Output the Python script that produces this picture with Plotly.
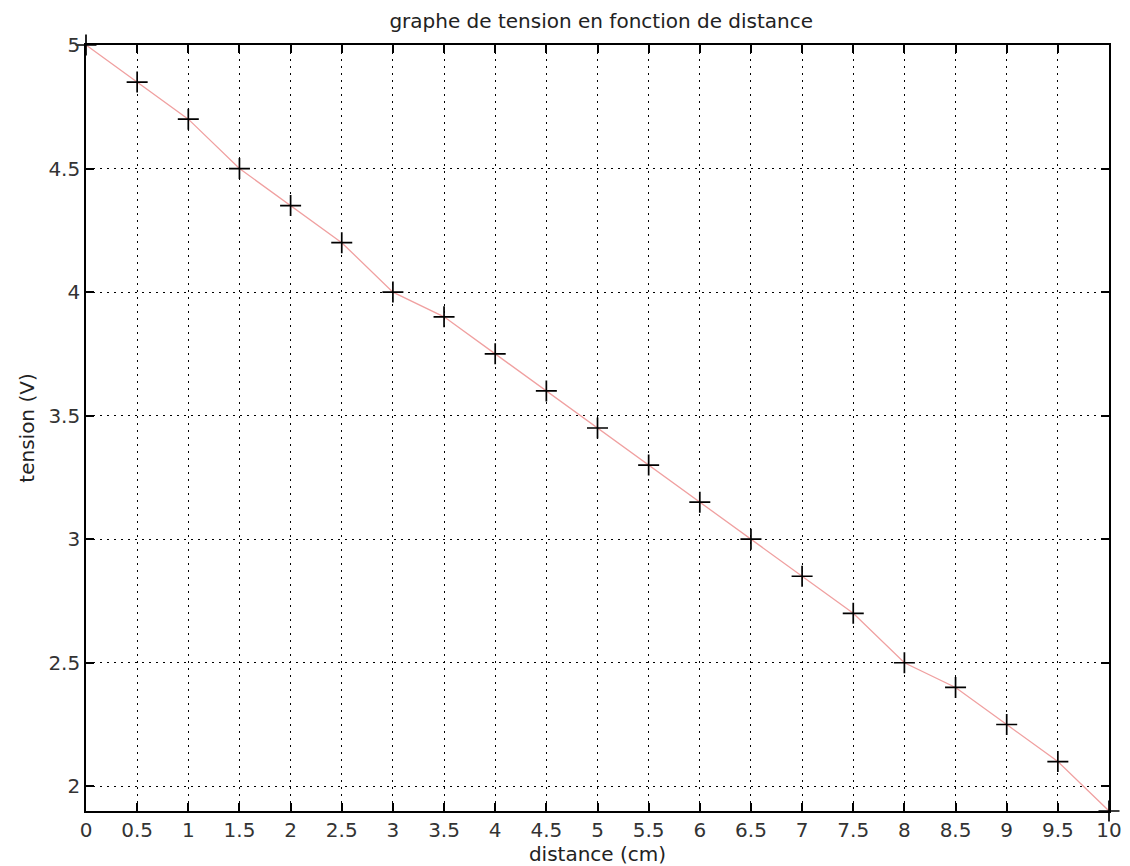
import plotly.graph_objects as go

distance = [0, 0.5, 1, 1.5, 2, 2.5, 3, 3.5, 4, 4.5, 5, 5.5, 6, 6.5, 7, 7.5, 8, 8.5, 9, 9.5, 10]
tension = [5.0, 4.85, 4.7, 4.5, 4.35, 4.2, 4.0, 3.9, 3.75, 3.6, 3.45, 3.3, 3.15, 3.0, 2.85, 2.7, 2.5, 2.4, 2.25, 2.1, 1.9]
x_ticks = [0, 0.5, 1, 1.5, 2, 2.5, 3, 3.5, 4, 4.5, 5, 5.5, 6, 6.5, 7, 7.5, 8, 8.5, 9, 9.5, 10]
x_labels = ["0", "0.5", "1", "1.5", "2", "2.5", "3", "3.5", "4", "4.5", "5", "5.5", "6", "6.5", "7", "7.5", "8", "8.5", "9", "9.5", "10"]
y_ticks = [2, 2.5, 3, 3.5, 4, 4.5, 5]
y_labels = ["2", "2.5", "3", "3.5", "4", "4.5", "5"]

FONT = "DejaVu Sans, Liberation Sans, Arial, sans-serif"

fig = go.Figure()
fig.add_trace(go.Scatter(
    x=distance, y=tension, mode="lines",
    line=dict(color="#f0a0a0", width=1.3),
    showlegend=False, cliponaxis=False,
))
fig.add_trace(go.Scatter(
    x=distance, y=tension, mode="markers",
    marker=dict(symbol="cross-thin", size=15, line=dict(color="black", width=1.7)),
    showlegend=False, cliponaxis=False,
))

axis_common = dict(
    showline=True, linecolor="black", linewidth=1.6, mirror="ticks",
    ticks="inside", ticklen=8, tickwidth=1.6, tickcolor="black",
    showgrid=True, gridcolor="black", gridwidth=1.2, griddash="2px,5px",
    zeroline=False,
    tickfont=dict(family=FONT, size=20, color="#333"),
)

fig.update_layout(
    width=1130, height=866,
    margin=dict(l=78, r=29, t=37, b=63),
    paper_bgcolor="white", plot_bgcolor="white",
    title=dict(text="graphe de tension en fonction de distance", x=0.525, xanchor="center",
               y=0.985, yanchor="middle",
               font=dict(family=FONT, size=20, color="#222")),
    xaxis=dict(range=[0, 10], tickvals=x_ticks, ticktext=x_labels,
               title=dict(text="distance (cm)", standoff=5,
                          font=dict(family=FONT, size=20, color="#222")),
               **axis_common),
    yaxis=dict(range=[1.9, 5], tickvals=y_ticks, ticktext=y_labels,
               title=dict(text="tension (V)", standoff=8,
                          font=dict(family=FONT, size=20, color="#222")),
               **axis_common),
)

fig.write_html("out.html")
